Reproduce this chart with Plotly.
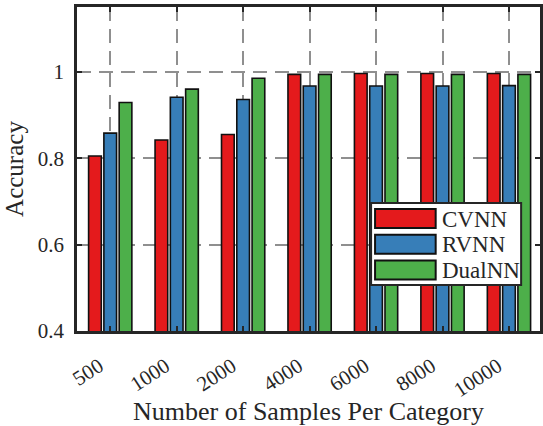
import plotly.graph_objects as go

# Accuracy versus training-set size for the three network types
categories = ["500", "1000", "2000", "4000", "6000", "8000", "10000"]
cvnn = [0.805, 0.842, 0.855, 0.994, 0.996, 0.996, 0.996]
rvnn = [0.858, 0.941, 0.936, 0.967, 0.967, 0.967, 0.968]
dualnn = [0.929, 0.960, 0.985, 0.994, 0.994, 0.994, 0.994]
series_names = ["CVNN", "RVNN", "DualNN"]
colors = ["#E41A1C", "#377EB8", "#4DAF4A"]
y_ticks = [0.4, 0.6, 0.8, 1.0]
y_tick_text = ["0.4", "0.6", "0.8", "1"]

W, H = 543, 426
L, R, T, B = 77, 0, 7, 95
FONT = "Liberation Serif"
INK = "#262626"

fig = go.Figure()
for name, vals, col in zip(series_names, [cvnn, rvnn, dualnn], colors):
    fig.add_trace(go.Bar(
        x=list(range(len(categories))), y=vals, name=name,
        marker=dict(color=col, line=dict(color="#111111", width=1.6)),
        showlegend=False,
    ))

# Custom legend with wide swatches, positioned in pixel terms inside the axes
pw, ph = W - L - R, H - T - B


def px(x):
    return (x - L) / pw


def py(y):
    return (H - B - y) / ph


shapes = [dict(type="rect", xref="paper", yref="paper",
               x0=px(373), x1=px(524), y0=py(285), y1=py(203),
               fillcolor="white", line=dict(color=INK, width=2), layer="above")]
annotations = []
for i, (name, col) in enumerate(zip(series_names, colors)):
    top = 209 + i * 25.8
    shapes.append(dict(type="rect", xref="paper", yref="paper",
                       x0=px(377), x1=px(438), y0=py(top + 19), y1=py(top),
                       fillcolor=col, line=dict(color="#111111", width=2),
                       layer="above"))
    annotations.append(dict(xref="paper", yref="paper", x=px(442), y=py(top + 10),
                            text=name, showarrow=False, xanchor="left",
                            yanchor="middle",
                            font=dict(family=FONT, size=23, color=INK)))

fig.update_layout(
    width=W, height=H,
    margin=dict(l=L, r=R, t=T, b=B),
    paper_bgcolor="white", plot_bgcolor="white",
    barmode="group", bargap=0.31, bargroupgap=0.17,
    font=dict(family=FONT, color=INK),
    shapes=shapes, annotations=annotations,
)

fig.update_xaxes(
    range=[-0.5, 6.467],
    tickmode="array", tickvals=list(range(len(categories))), ticktext=categories,
    tickangle=-33, tickfont=dict(family=FONT, size=21, color=INK),
    ticks="inside", ticklen=5, tickwidth=2, tickcolor=INK,
    ticklabelshift=-11, ticklabelstandoff=12,
    showline=True, linecolor=INK, linewidth=2.5, mirror="ticks",
    showgrid=True, gridcolor="#8f8f8f", gridwidth=2, griddash="14px,8px",
    zeroline=False,
    title=dict(text="Number of Samples Per Category",
               font=dict(family=FONT, size=26, color=INK), standoff=0),
)
fig.update_yaxes(
    range=[0.4, 1.15],
    tickmode="array", tickvals=y_ticks, ticktext=y_tick_text,
    tickfont=dict(family=FONT, size=21, color=INK),
    ticks="inside", ticklen=5, tickwidth=2, tickcolor=INK,
    showline=True, linecolor=INK, linewidth=2.5, mirror="ticks",
    showgrid=True, gridcolor="#8f8f8f", gridwidth=2, griddash="14px,8px",
    zeroline=False, ticklabelstandoff=6,
    title=dict(text="Accuracy", font=dict(family=FONT, size=25, color=INK),
               standoff=8),
)

fig.write_html("out.html")
